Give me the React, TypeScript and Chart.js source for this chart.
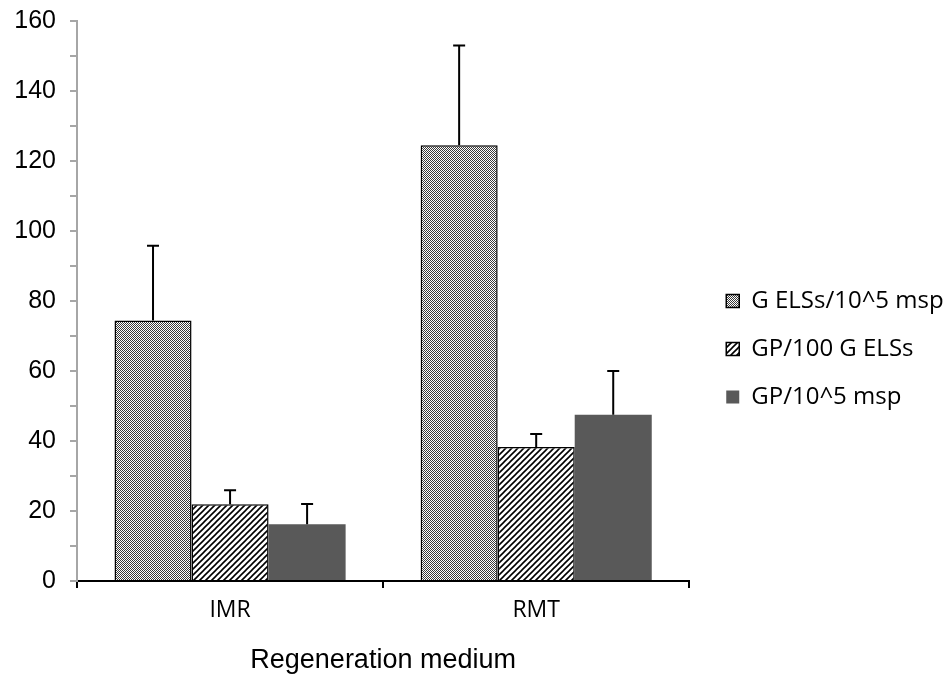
import React, { useEffect, useRef } from "react";
import { Chart, registerables } from "chart.js";

Chart.register(...registerables);

const categories = ["IMR", "RMT"];
const seriesNames = ["G ELSs/10^5 msp", "GP/100 G ELSs", "GP/10^5 msp"];
const seriesValues = [
  [74.4, 124.5],
  [21.9, 38.3],
  [16.2, 47.5],
];
const seriesErrors = [
  [21.4, 28.5],
  [4.0, 3.7],
  [5.8, 12.5],
];
const yTickStep = 10;
const yLabelStep = 20;
const yMax = 160;
const xTitle = "Regeneration medium";

function makeChecker(): CanvasPattern | string {
  const c = document.createElement("canvas");
  c.width = 2;
  c.height = 2;
  const g = c.getContext("2d");
  if (!g) return "#aaa";
  g.fillStyle = "#ffffff";
  g.fillRect(0, 0, 2, 2);
  g.fillStyle = "#3a3a3a";
  g.fillRect(0, 0, 1, 1);
  g.fillRect(1, 1, 1, 1);
  return g.createPattern(c, "repeat") || "#aaa";
}

function makeHatch(): CanvasPattern | string {
  const s = 6;
  const c = document.createElement("canvas");
  c.width = s;
  c.height = s;
  const g = c.getContext("2d");
  if (!g) return "#ccc";
  g.fillStyle = "#ffffff";
  g.fillRect(0, 0, s, s);
  g.strokeStyle = "#000000";
  g.lineWidth = 1.6;
  g.beginPath();
  g.moveTo(0, s);
  g.lineTo(s, 0);
  g.moveTo(-1, 1);
  g.lineTo(1, -1);
  g.moveTo(s - 1, s + 1);
  g.lineTo(s + 1, s - 1);
  g.stroke();
  return g.createPattern(c, "repeat") || "#ccc";
}

const errorBarPlugin = {
  id: "errorBars",
  afterDatasetsDraw(chart: any) {
    const ctx = chart.ctx;
    const yScale = chart.scales.y;
    ctx.save();
    ctx.strokeStyle = "#000";
    ctx.lineWidth = 2;
    chart.data.datasets.forEach((ds: any, di: number) => {
      const meta = chart.getDatasetMeta(di);
      meta.data.forEach((bar: any, i: number) => {
        const v = ds.data[i];
        const e = ds.errors[i];
        const yTop = yScale.getPixelForValue(v + e);
        const yBase = yScale.getPixelForValue(v);
        ctx.beginPath();
        ctx.moveTo(bar.x, yBase);
        ctx.lineTo(bar.x, yTop);
        ctx.moveTo(bar.x - 6, yTop);
        ctx.lineTo(bar.x + 6, yTop);
        ctx.stroke();
      });
    });
    ctx.restore();
  },
};

const legendShiftPlugin = {
  id: "legendShift",
  afterLayout(chart: any) {
    const lg = chart.legend;
    if (!lg) return;
    const dx = chart.chartArea.right + 13 - lg.left;
    const dy = 0;
    lg.left += dx;
    lg.right = chart.width;
    lg.width = lg.right - lg.left;
    lg.top += dy;
    lg.bottom += dy;
  },
};

export default function App() {
  const ref = useRef<HTMLCanvasElement>(null);
  useEffect(() => {
    document.body.style.margin = "0";
    if (!ref.current) return;
    const fills = [makeChecker(), makeHatch(), "#595959"];
    const chart = new Chart(ref.current, {
      type: "bar",
      data: {
        labels: categories,
        datasets: seriesNames.map((name, k) => ({
          label: name,
          data: seriesValues[k],
          errors: seriesErrors[k],
          backgroundColor: fills[k],
          borderColor: "#000000",
          borderWidth: k < 2 ? 1.5 : 0,
          categoryPercentage: 0.755,
          barPercentage: 1.0,
        })) as any,
      },
      options: {
        responsive: false,
        animation: false,
        devicePixelRatio: 1,
        layout: { padding: { top: 21, left: 0, right: 24, bottom: 0 } },
        plugins: {
          legend: {
            position: "right",
            labels: {
              boxWidth: 13,
              boxHeight: 13,
              padding: 24,
              color: "#000",
              font: { family: "Open Sans", size: 24 },
            },
          },
          tooltip: { enabled: false },
        },
        scales: {
          x: {
            afterFit(scale: any) {
              scale.height = 96;
            },
            border: { color: "#000", width: 2 },
            grid: {
              offset: true,
              drawOnChartArea: false,
              drawTicks: true,
              tickLength: 7,
              color: "#000",
              lineWidth: 2,
            },
            ticks: {
              color: "#000",
              padding: 9,
              font: { family: "Open Sans", size: 23 },
            },
            title: {
              display: true,
              text: xTitle,
              color: "#000",
              padding: { top: 0, bottom: 0 },
              font: { family: "Liberation Sans", size: 27 },
            },
          },
          y: {
            min: 0,
            max: yMax,
            afterFit(scale: any) {
              scale.width = 77;
              scale.paddingTop = 0;
              scale.paddingBottom = 0;
            },
            border: { color: "#a6a6a6", width: 2 },
            grid: {
              drawOnChartArea: false,
              drawTicks: true,
              tickLength: 7,
              color: "#a6a6a6",
              lineWidth: 2,
            },
            ticks: {
              stepSize: yTickStep,
              autoSkip: false,
              color: "#000",
              padding: 14,
              font: { family: "Liberation Sans", size: 25 },
              callback: (v: any) => (Number(v) % yLabelStep === 0 ? String(v) : ""),
            },
          },
        },
      },
      plugins: [errorBarPlugin, legendShiftPlugin],
    });
    return () => chart.destroy();
  }, []);
  return (
    <div style={{ width: 943, height: 677 }}>
      <canvas ref={ref} width={943} height={677} style={{ display: "block" }} />
    </div>
  );
}
